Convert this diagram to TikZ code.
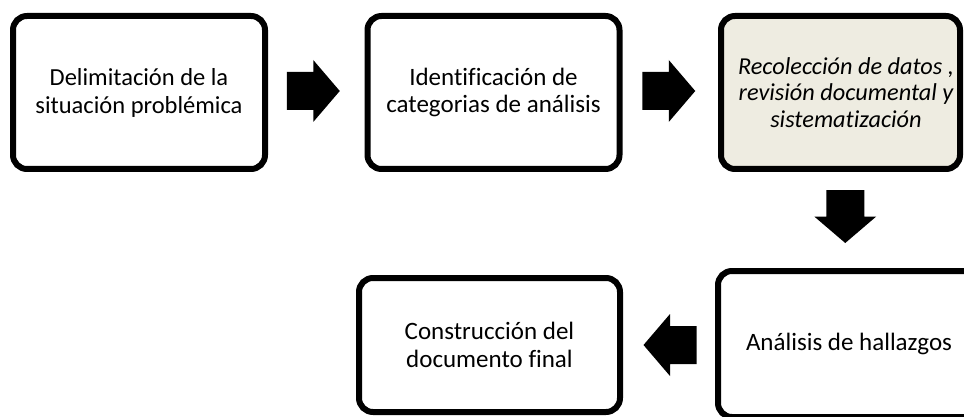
\documentclass[tikz,border=0pt]{standalone}
\usepackage{fontspec}
\setmainfont[Ligatures=NoCommon]{Carlito}
\usetikzlibrary{calc}
\definecolor{beige}{RGB}{238,236,225}
\tikzset{
  stepbox/.style={draw=black, line width=6pt, rounded corners=14pt, fill=white,
    align=center, font=\fontsize{25}{27.5}\selectfont, text=black, inner sep=0pt,
    minimum width=252pt, minimum height=153pt},
  blockarrow/.pic={\fill[black] (-26.5,-19) -- (0,-19) -- (0,-31) -- (26.5,0) -- (0,31) -- (0,19) -- (-26.5,19) -- cycle;}
}
\newcommand\shft{\hspace*{11pt}}
\begin{document}
\begin{tikzpicture}[x=1pt,y=-1pt]
\useasboundingbox (0,0) rectangle (964,417);
\begin{scope}
\clip (0,0) rectangle (964,417);
\node[stepbox, font=\fontsize{24.5}{28}\selectfont] (b1) at (139,92.5) {Delimitación de la\\situación problémica};
\node[stepbox] (b2) at (493.5,92.5) {Identificación de\\categorias de análisis};
\node[stepbox, fill=beige, minimum width=239pt, font=\fontsize{24.3}{26.5}\selectfont\itshape] (b3) at (840.5,92.5) {\shft Recolección de datos ,\\\shft revisión documental y\\\shft sistematización};
\node[stepbox, minimum width=262pt, minimum height=146pt] (b5) at (849,344) {Análisis de hallazgos};
\node[stepbox, minimum width=261pt, minimum height=134pt] (b4) at (489.5,345) {Construcción del\\documento final};
\end{scope}
\coordinate (a1) at ($(b1.east)!0.5!(b2.west)+(-3,-1.5)$);
\coordinate (a2) at ($(b2.east)!0.5!(b3.west)+(-1.5,-1.5)$);
\coordinate (a3) at ($(b3.south)!0.5!(b5.north)+(0.5,-3.5)$);
\coordinate (a4) at ($(b5.west)!0.5!(b4.east)+(1,0.5)$);
\pic at (a1) {blockarrow};
\pic at (a2) {blockarrow};
\pic[rotate=-90] at (a3) {blockarrow};
\pic[rotate=180] at (a4) {blockarrow};
\end{tikzpicture}
\end{document}
